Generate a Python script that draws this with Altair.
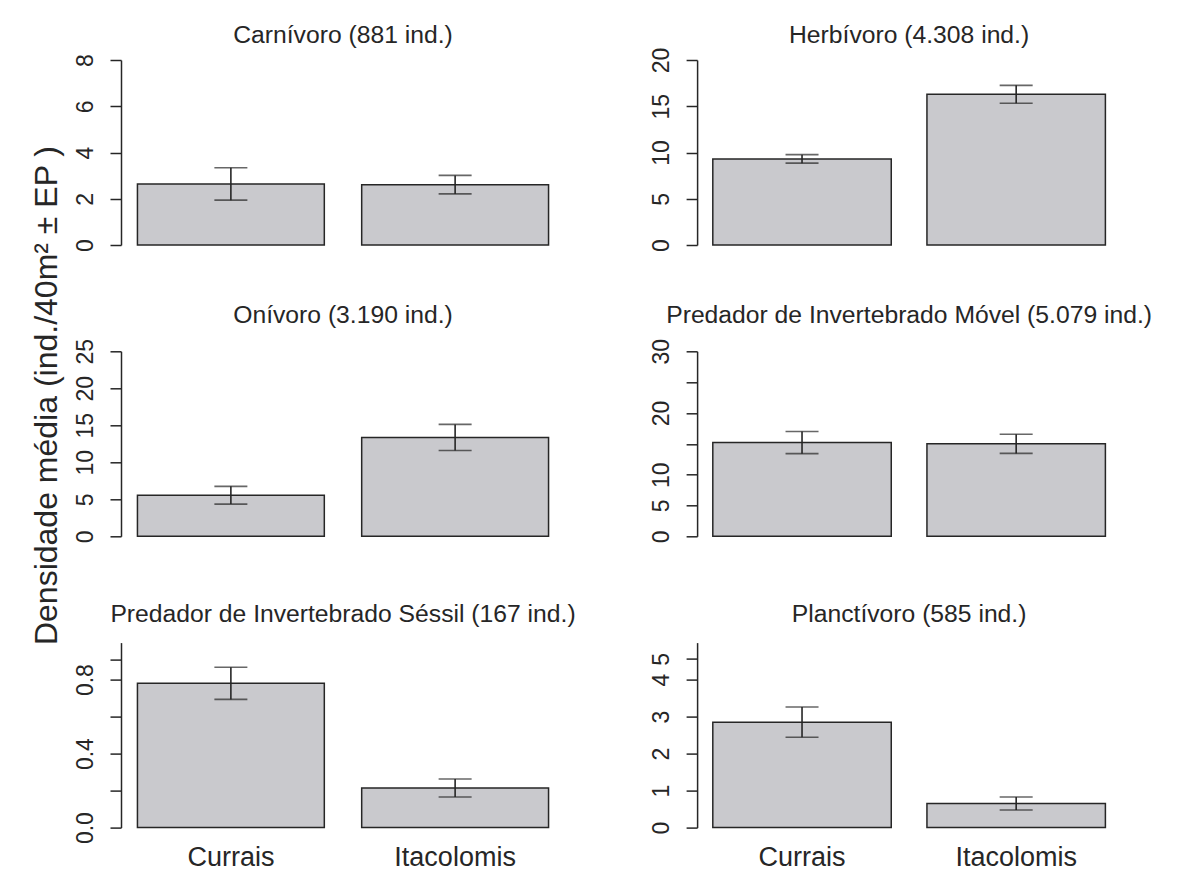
import altair as alt
import pandas as pd

# ---------------- data ----------------
panel_titles = [
    "Carnívoro (881 ind.)",
    "Herbívoro (4.308 ind.)",
    "Onívoro (3.190 ind.)",
    "Predador de Invertebrado Móvel (5.079 ind.)",
    "Predador de Invertebrado Séssil (167 ind.)",
    "Planctívoro (585 ind.)",
]
sites = ["Currais", "Itacolomis"]
mean_currais = [2.64, 9.31, 5.55, 15.2, 0.78, 2.85]
mean_itacolomis = [2.61, 16.29, 13.36, 14.99, 0.214, 0.65]
se_currais = [0.70, 0.46, 1.20, 1.80, 0.087, 0.41]
se_itacolomis = [0.40, 0.97, 1.76, 1.55, 0.049, 0.175]

y_max = [8, 20, 25, 30, 1.0, 5]
tick_values = [
    [0, 2, 4, 6, 8],
    [0, 5, 10, 15, 20],
    [0, 5, 10, 15, 20, 25],
    [0, 5, 10, 15, 20, 25, 30],
    [0, 0.2, 0.4, 0.6, 0.8, 0.91],
    [0, 1, 2, 3, 4, 4.56],
]
tick_labels = [
    ["0", "2", "4", "6", "8"],
    ["0", "5", "10", "15", "20"],
    ["0", "5", "10", "15", "20", "25"],
    ["0", "5", "10", "", "20", "", "30"],
    ["0.0", "", "0.4", "", "0.8", ""],
    ["0", "1", "2", "3", "4", "5"],
]
y_title = "Densidade média (ind./40m² ± EP )"

# ---------------- styling ----------------
FONT = "Liberation Sans"
INK = "#262626"
BAR_FILL = "#c9c9cd"
COL_WIDTH = [444, 424]
PANEL_H = 185
TITLE_OFFSET = [-14, -20, -9, -9, -4, -4]


def label_expr(values, labels):
    expr = "''"
    for v, l in reversed(list(zip(values, labels))):
        expr = f"datum.value == {v} ? '{l}' : ({expr})"
    return expr


panels = []
for i, title in enumerate(panel_titles):
    df = pd.DataFrame({
        "site": sites,
        "mean": [mean_currais[i], mean_itacolomis[i]],
        "se": [se_currais[i], se_itacolomis[i]],
    })
    df["lo"] = df["mean"] - df["se"]
    df["hi"] = df["mean"] + df["se"]

    col = i % 2
    bottom_row = i >= 4

    xscale = alt.Scale(domain=sites, paddingInner=0.2 / 1.2, paddingOuter=0.088 / 1.2)
    if bottom_row:
        xaxis = alt.Axis(title=None, domain=False, ticks=False, tickSize=0,
                         labelAngle=0, labelFontSize=27, labelPadding=17,
                         labelFont=FONT, labelColor=INK)
    else:
        xaxis = None
    yscale = alt.Scale(domain=[0, y_max[i]], nice=False, zero=True)
    yaxis = alt.Axis(
        title=None, values=tick_values[i],
        labelExpr=label_expr(tick_values[i], tick_labels[i]),
        labelAngle=270, labelAlign="center", labelBaseline="bottom",
        labelPadding=13, labelFontSize=23, labelFont=FONT, labelColor=INK,
        tickSize=11, tickWidth=1.5, tickColor=INK,
        domainColor=INK, domainWidth=1.5, grid=False,
        labelOverlap=False, labelBound=False, labelFlush=False,
    )

    X = alt.X("site:N", scale=xscale, axis=xaxis, sort=sites)
    base = alt.Chart(df)
    bars = base.mark_bar(fill=BAR_FILL, stroke=INK, strokeWidth=1.5).encode(
        x=X, y=alt.Y("mean:Q", scale=yscale, axis=yaxis))
    whisker = base.mark_rule(color=INK, strokeWidth=1.6).encode(
        x=X, y=alt.Y("lo:Q", scale=yscale, axis=yaxis), y2="hi:Q")
    cap_hi = base.mark_tick(color=INK, thickness=1.6, size=33).encode(
        x=X, y=alt.Y("hi:Q", scale=yscale, axis=yaxis))
    cap_lo = base.mark_tick(color=INK, thickness=1.6, size=33).encode(
        x=X, y=alt.Y("lo:Q", scale=yscale, axis=yaxis))

    panel = alt.layer(bars, whisker, cap_hi, cap_lo).properties(
        width=COL_WIDTH[col], height=PANEL_H,
        title=alt.TitleParams(text=title, fontSize=24.7, font=FONT, fontWeight="normal",
                              color=INK, baseline="alphabetic", anchor="middle",
                              offset=TITLE_OFFSET[i]),
    )
    panels.append(panel)

chart = alt.concat(
    *panels, columns=2, bounds="flush",
    spacing={"row": 106.3, "column": 132.1},
).properties(
    title=alt.TitleParams(text=y_title, orient="left", anchor="middle", fontSize=32,
                          font=FONT, fontWeight="normal", color=INK, offset=9.6, dx=51),
    padding={"left": 31, "top": 22, "right": 5, "bottom": 0},
    background="white",
).configure_view(stroke=None)

chart.save("out.html", embed_options={"renderer": "svg", "actions": False})
